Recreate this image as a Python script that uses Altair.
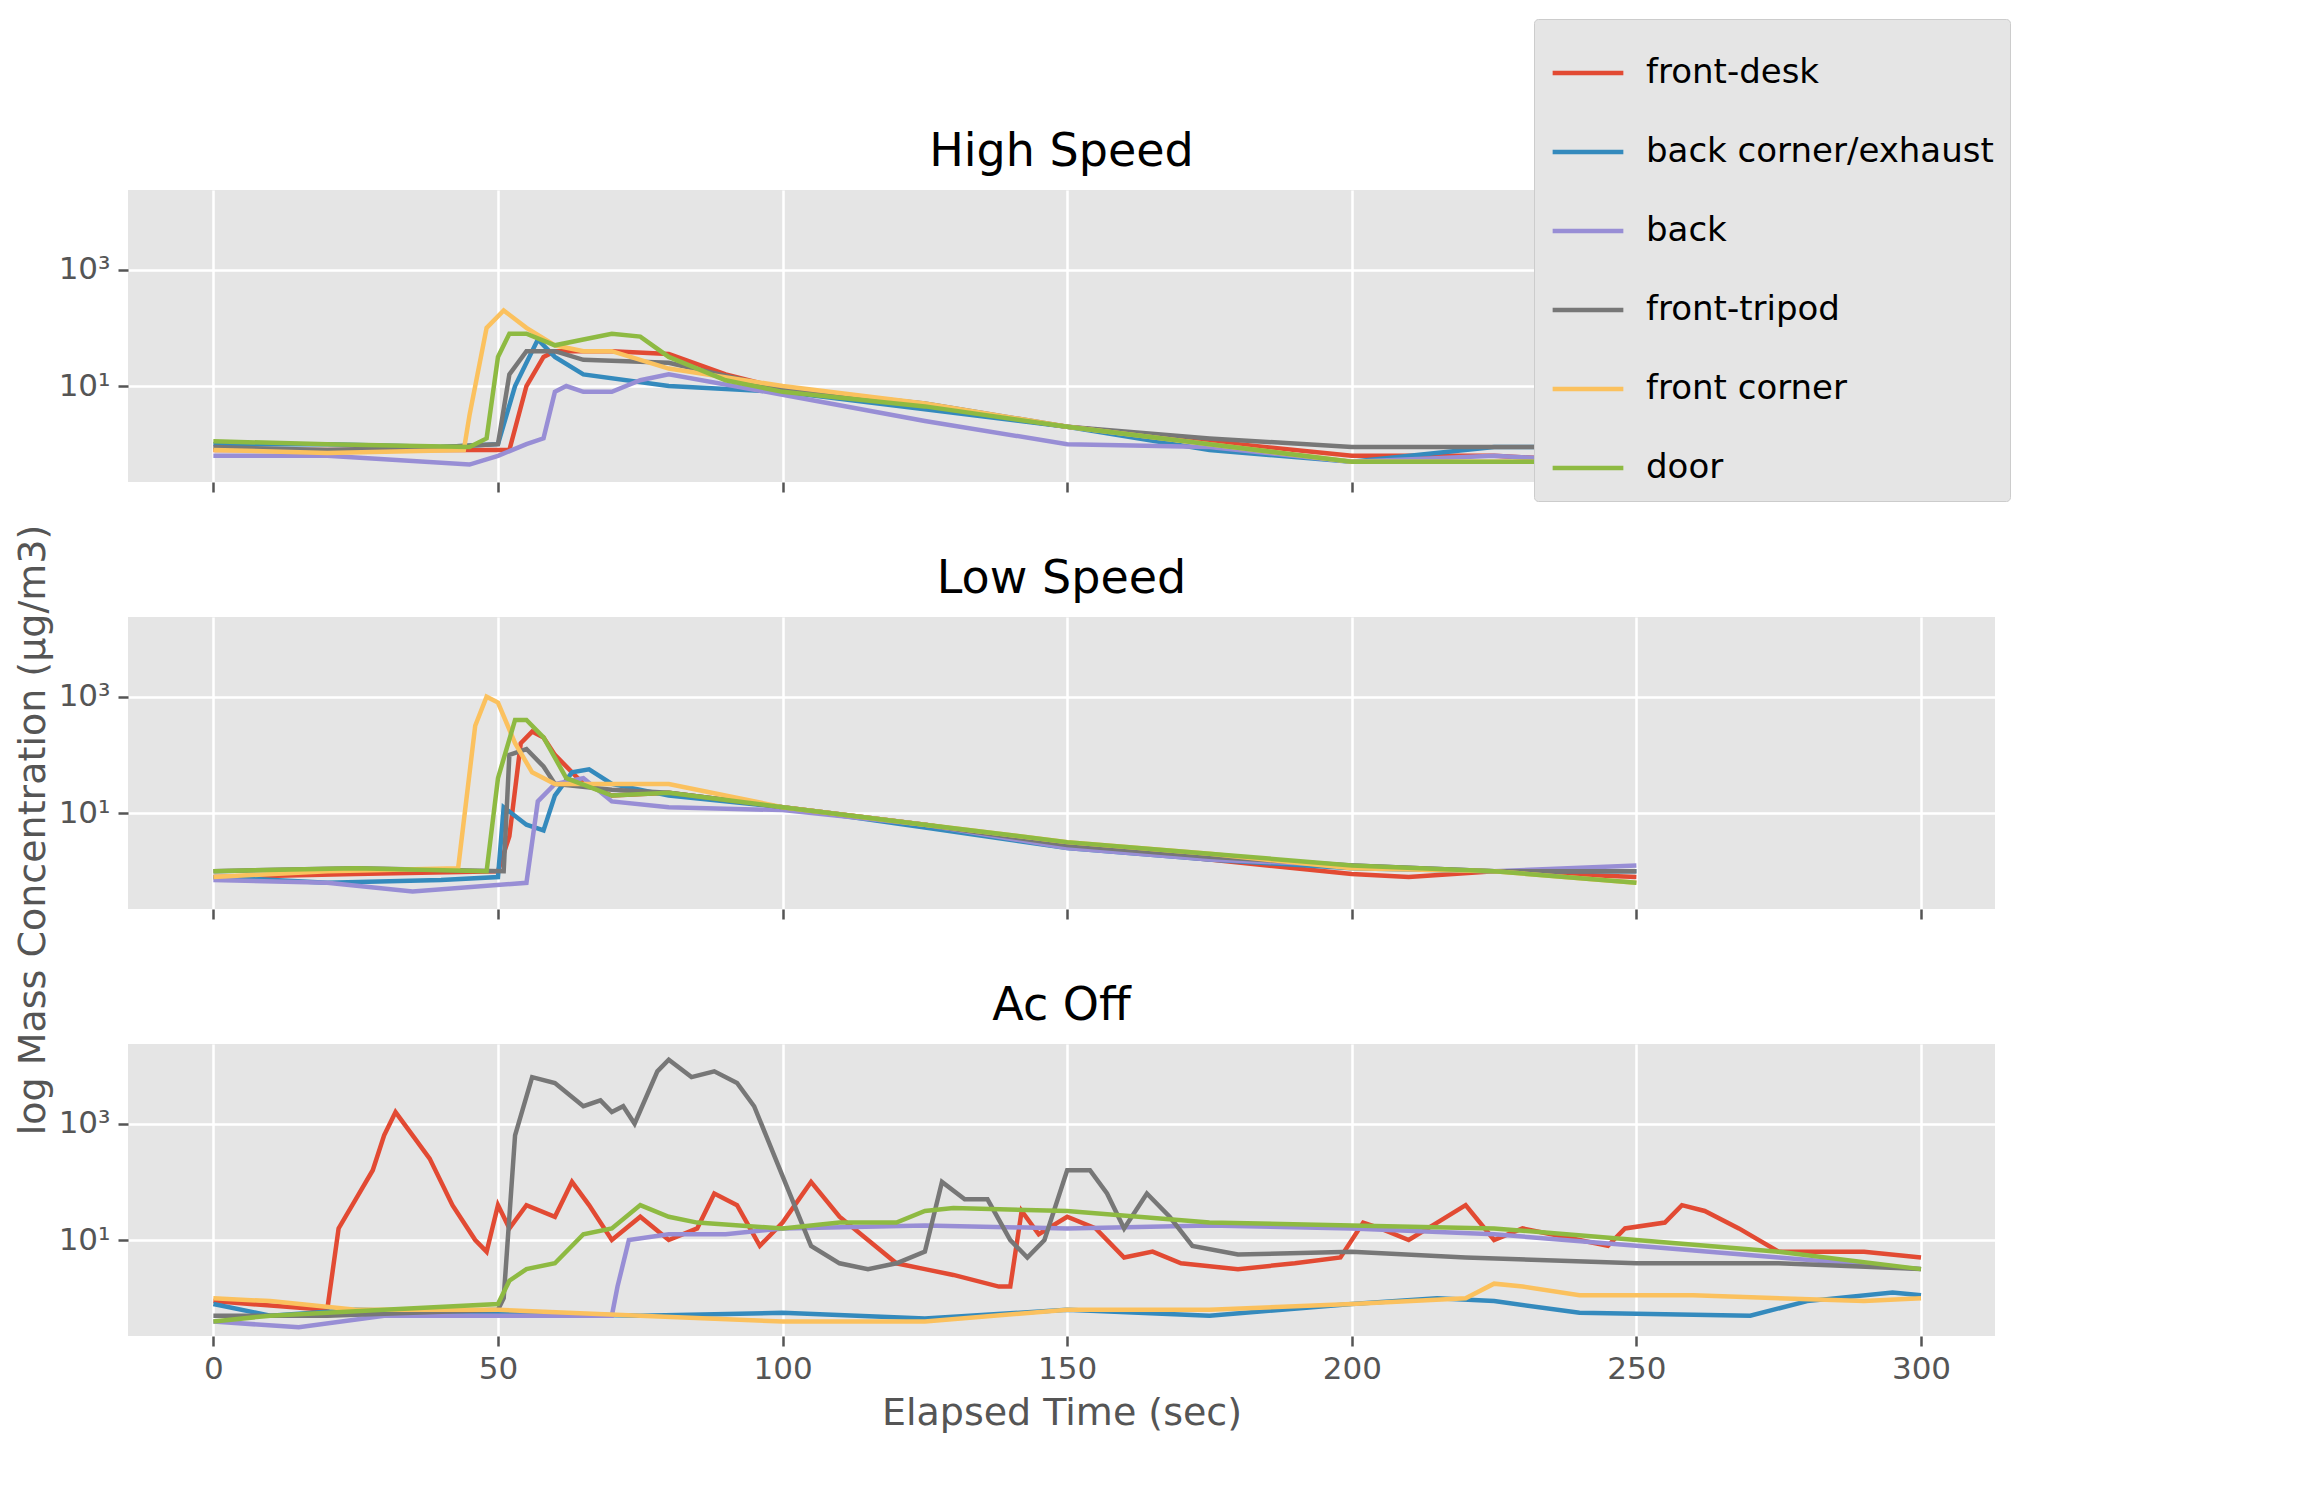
import altair as alt
import pandas as pd

names = ["front-desk", "back corner/exhaust", "back", "front-tripod", "front corner", "door"]
colors = ["#E24A33", "#348ABD", "#988ED5", "#777777", "#FBC15E", "#8EBA42"]

# values are log10 of concentration
# --- High Speed ---
hs_desk_t = [0, 20, 40, 52, 55, 58, 60, 70, 80, 90, 100, 125, 150, 175, 200, 225, 245]
hs_desk_e = [-0.1, -0.1, -0.1, -0.1, 1.0, 1.5, 1.6, 1.6, 1.55, 1.2, 0.95, 0.65, 0.3, 0.05, -0.2, -0.2, -0.3]
hs_exh_t = [0, 20, 40, 50, 53, 57, 60, 65, 80, 100, 150, 175, 200, 225, 245]
hs_exh_e = [0.0, 0.0, -0.05, 0.0, 1.0, 1.8, 1.5, 1.2, 1.0, 0.9, 0.3, -0.1, -0.3, -0.05, -0.05]
hs_back_t = [0, 20, 45, 50, 55, 58, 60, 62, 65, 70, 75, 80, 100, 125, 150, 175, 200, 225, 245]
hs_back_e = [-0.2, -0.2, -0.35, -0.2, 0.0, 0.1, 0.9, 1.0, 0.9, 0.9, 1.1, 1.2, 0.85, 0.4, 0.0, -0.05, -0.3, -0.2, -0.3]
hs_trip_t = [0, 20, 40, 50, 52, 55, 60, 65, 80, 100, 125, 150, 175, 200, 225, 245]
hs_trip_e = [-0.05, -0.1, -0.05, 0.0, 1.2, 1.6, 1.6, 1.45, 1.4, 0.95, 0.7, 0.3, 0.1, -0.05, -0.05, -0.05]
hs_corn_t = [0, 20, 44, 45, 48, 51, 55, 60, 65, 70, 80, 100, 125, 150, 175, 200, 225, 245]
hs_corn_e = [-0.1, -0.15, -0.1, 0.5, 2.0, 2.3, 2.0, 1.7, 1.6, 1.6, 1.3, 1.0, 0.7, 0.3, 0.0, -0.3, -0.3, -0.3]
hs_door_t = [0, 20, 45, 48, 50, 52, 55, 60, 65, 70, 75, 80, 90, 100, 125, 150, 175, 200, 225, 245]
hs_door_e = [0.05, 0.0, -0.05, 0.1, 1.5, 1.9, 1.9, 1.7, 1.8, 1.9, 1.85, 1.5, 1.1, 0.9, 0.65, 0.3, 0.0, -0.3, -0.3, -0.3]

# --- Low Speed ---
ls_desk_t = [0, 25, 50, 52, 54, 56, 58, 60, 65, 70, 80, 100, 125, 150, 175, 200, 210, 225, 250]
ls_desk_e = [-0.1, -0.05, 0.0, 0.6, 2.2, 2.4, 2.3, 2.0, 1.5, 1.3, 1.35, 1.1, 0.8, 0.45, 0.2, -0.05, -0.1, 0.0, -0.1]
ls_exh_t = [0, 20, 40, 50, 51, 55, 58, 60, 63, 66, 70, 80, 100, 125, 150, 175, 200, 225, 250]
ls_exh_e = [-0.1, -0.2, -0.15, -0.1, 1.1, 0.8, 0.7, 1.3, 1.7, 1.75, 1.5, 1.3, 1.1, 0.75, 0.4, 0.2, 0.05, 0.0, 0.0]
ls_back_t = [0, 20, 35, 55, 57, 60, 65, 70, 80, 100, 125, 150, 175, 200, 225, 250]
ls_back_e = [-0.15, -0.2, -0.35, -0.2, 1.2, 1.5, 1.6, 1.2, 1.1, 1.05, 0.8, 0.4, 0.2, 0.1, 0.0, 0.1]
ls_trip_t = [0, 25, 51, 52, 55, 58, 60, 70, 80, 100, 125, 150, 175, 200, 225, 250]
ls_trip_e = [0.0, 0.05, 0.0, 2.0, 2.1, 1.8, 1.5, 1.4, 1.35, 1.1, 0.8, 0.45, 0.25, 0.1, 0.0, 0.0]
ls_corn_t = [0, 20, 43, 46, 48, 50, 53, 56, 60, 70, 80, 100, 125, 150, 175, 200, 225, 250]
ls_corn_e = [-0.1, 0.0, 0.05, 2.5, 3.0, 2.9, 2.2, 1.7, 1.5, 1.5, 1.5, 1.1, 0.8, 0.5, 0.3, 0.05, 0.0, -0.2]
ls_door_t = [0, 25, 48, 50, 53, 55, 58, 62, 70, 80, 100, 125, 150, 175, 200, 225, 250]
ls_door_e = [0.0, 0.05, 0.0, 1.6, 2.6, 2.6, 2.3, 1.6, 1.3, 1.35, 1.1, 0.8, 0.5, 0.3, 0.1, 0.0, -0.2]

# --- Ac Off ---
ac_desk_t = [0, 20, 22, 25, 28, 30, 32, 35, 38, 42, 46, 48, 50, 52, 55, 60, 63, 66, 70, 75, 80, 85, 88,
             92, 96, 100, 105, 110, 115, 120, 125, 130, 138, 140, 142, 145, 150, 155, 160, 165, 170, 180,
             190, 198, 202, 205, 210, 215, 220, 225, 230, 240, 245, 248, 255, 258, 262, 268, 275, 290, 300]
ac_desk_e = [-0.05, -0.2, 1.2, 1.7, 2.2, 2.8, 3.2, 2.8, 2.4, 1.6, 1.0, 0.8, 1.6, 1.2, 1.6, 1.4, 2.0, 1.6,
             1.0, 1.4, 1.0, 1.2, 1.8, 1.6, 0.9, 1.3, 2.0, 1.4, 1.0, 0.6, 0.5, 0.4, 0.2, 0.2, 1.5, 1.1, 1.4,
             1.2, 0.7, 0.8, 0.6, 0.5, 0.6, 0.7, 1.3, 1.2, 1.0, 1.3, 1.6, 1.0, 1.2, 1.0, 0.9, 1.2, 1.3, 1.6,
             1.5, 1.2, 0.8, 0.8, 0.7]
ac_exh_t = [0, 10, 25, 50, 75, 100, 125, 150, 175, 200, 215, 225, 240, 270, 280, 295, 300]
ac_exh_e = [-0.1, -0.3, -0.2, -0.25, -0.3, -0.25, -0.35, -0.2, -0.3, -0.1, 0.0, -0.05, -0.25, -0.3, -0.05, 0.1, 0.05]
ac_back_t = [0, 15, 30, 50, 70, 71, 73, 80, 90, 100, 125, 150, 175, 200, 225, 250, 275, 300]
ac_back_e = [-0.4, -0.5, -0.3, -0.3, -0.3, 0.2, 1.0, 1.1, 1.1, 1.2, 1.25, 1.2, 1.25, 1.2, 1.1, 0.9, 0.7, 0.5]
ac_trip_t = [0, 20, 50, 51, 53, 56, 60, 65, 68, 70, 72, 74, 78, 80, 84, 88, 92, 95, 100, 105, 110, 115,
             120, 125, 128, 132, 136, 140, 143, 146, 150, 154, 157, 160, 164, 168, 172, 180, 200, 220, 250,
             275, 300]
ac_trip_e = [-0.3, -0.3, -0.2, 0.0, 2.8, 3.8, 3.7, 3.3, 3.4, 3.2, 3.3, 3.0, 3.9, 4.1, 3.8, 3.9, 3.7, 3.3,
             2.1, 0.9, 0.6, 0.5, 0.6, 0.8, 2.0, 1.7, 1.7, 1.0, 0.7, 1.0, 2.2, 2.2, 1.8, 1.2, 1.8, 1.4, 0.9,
             0.75, 0.8, 0.7, 0.6, 0.6, 0.5]
ac_corn_t = [0, 10, 25, 50, 75, 100, 125, 150, 175, 200, 220, 225, 230, 240, 260, 290, 300]
ac_corn_e = [0.0, -0.05, -0.2, -0.2, -0.3, -0.4, -0.4, -0.2, -0.2, -0.1, 0.0, 0.25, 0.2, 0.05, 0.05, -0.05, 0.0]
ac_door_t = [0, 10, 30, 50, 52, 55, 60, 65, 70, 75, 80, 85, 100, 110, 120, 125, 130, 150, 175, 200, 225, 250, 275, 300]
ac_door_e = [-0.4, -0.3, -0.2, -0.1, 0.3, 0.5, 0.6, 1.1, 1.2, 1.6, 1.4, 1.3, 1.2, 1.3, 1.3, 1.5, 1.55, 1.5,
             1.3, 1.25, 1.2, 1.0, 0.8, 0.5]

panels = [
    ("High Speed", [(hs_desk_t, hs_desk_e), (hs_exh_t, hs_exh_e), (hs_back_t, hs_back_e),
                    (hs_trip_t, hs_trip_e), (hs_corn_t, hs_corn_e), (hs_door_t, hs_door_e)]),
    ("Low Speed", [(ls_desk_t, ls_desk_e), (ls_exh_t, ls_exh_e), (ls_back_t, ls_back_e),
                   (ls_trip_t, ls_trip_e), (ls_corn_t, ls_corn_e), (ls_door_t, ls_door_e)]),
    ("Ac Off", [(ac_desk_t, ac_desk_e), (ac_exh_t, ac_exh_e), (ac_back_t, ac_back_e),
                (ac_trip_t, ac_trip_e), (ac_corn_t, ac_corn_e), (ac_door_t, ac_door_e)]),
]

W, H = 1867, 292
FONT = "DejaVu Sans"
charts = []
for i, (title, series) in enumerate(panels):
    rows = []
    for name, (ts, es) in zip(names, series):
        for t, e in zip(ts, es):
            rows.append({"sensor": name, "t": t, "conc": 10 ** e})
    df = pd.DataFrame(rows)
    last = i == 2
    legend = None
    if i == 0:
        legend = alt.Legend(title=None, orient="none", legendX=1520, legendY=-171,
                            labelFontSize=34, labelColor="black", symbolType="stroke",
                            symbolSize=5000, symbolStrokeWidth=4.5, rowPadding=24,
                            fillColor="#E5E5E5", strokeColor="#CCCCCC", padding=16,
                            cornerRadius=4, labelLimit=600, labelOffset=20)
    c = alt.Chart(df, width=W, height=H,
                  title=alt.Title(title, fontSize=46, fontWeight="normal", color="black", offset=14)
    ).mark_line(strokeWidth=4.5, clip=True).encode(
        x=alt.X("t:Q", scale=alt.Scale(domain=[-15, 313], nice=False),
                axis=alt.Axis(values=[0, 50, 100, 150, 200, 250, 300], labels=last,
                              title="Elapsed Time (sec)" if last else None,
                              labelFontSize=31, titleFontSize=38, titleFontWeight="normal",
                              titleColor="#555555", titlePadding=10)),
        y=alt.Y("conc:Q", scale=alt.Scale(type="log", domain=[0.224, 23442], nice=False),
                axis=alt.Axis(values=[10, 1000],
                              labelExpr="datum.value == 10 ? '10¹' : '10³'",
                              labelFontSize=31, title=None)),
        color=alt.Color("sensor:N", scale=alt.Scale(domain=names, range=colors),
                        sort=names, legend=legend),
        order=alt.Order("t:Q"),
    ).properties(view=alt.ViewBackground(fill="#E5E5E5", stroke=None))
    charts.append(c)

panels_chart = alt.vconcat(*charts, spacing=62)

ytitle = alt.Chart(pd.DataFrame({"label": ["log Mass Concentration (µg/m3)"]}),
                   width=40, height=1230).mark_text(
    angle=270, fontSize=38, color="#555555", font=FONT
).encode(
    text="label:N", x=alt.value(20), y=alt.value(640)
).properties(view=alt.ViewBackground(fill=None, stroke=None))

chart = alt.hconcat(ytitle, panels_chart, spacing=4).configure_axis(
    gridColor="white", gridWidth=2.5, domain=False, tickColor="#555555", tickSize=10,
    tickWidth=2.5, labelColor="#555555", labelFont=FONT, titleFont=FONT, labelPadding=8
).configure_title(font=FONT).configure_legend(labelFont=FONT).properties(
    background="white", padding={"left": 6, "top": 10, "right": 10, "bottom": 10}
)

chart.save("out.html", embed_options={"renderer": "svg", "actions": False})
